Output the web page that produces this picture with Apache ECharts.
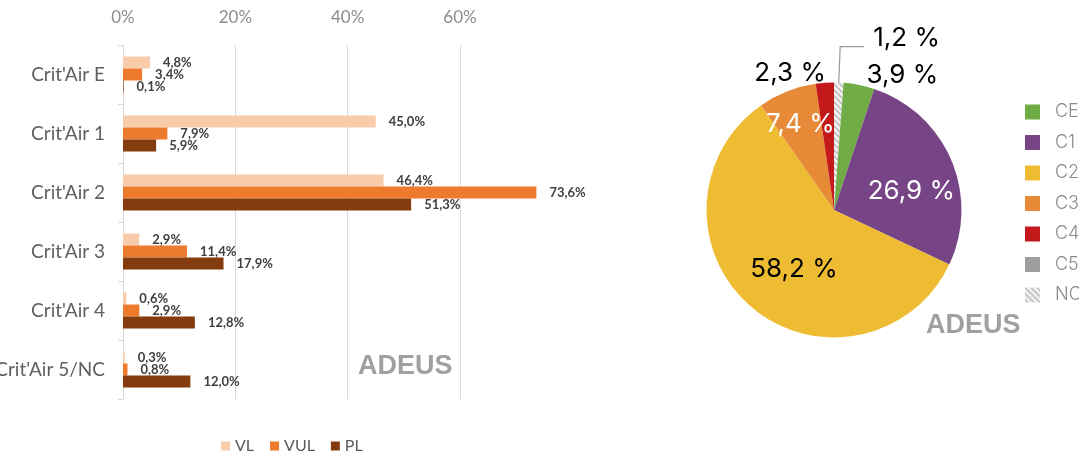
<!DOCTYPE html>
<html><head><meta charset="utf-8">
<script src="https://cdn.jsdelivr.net/npm/echarts@6/dist/echarts.min.js"></script>
<style>html,body{margin:0;padding:0;background:#fff}#c{width:1079px;height:455px}</style>
</head><body><div id="c"></div>
<script>
// ---- Bar chart data ----
const barCategories = ["Crit'Air E", "Crit'Air 1", "Crit'Air 2", "Crit'Air 3", "Crit'Air 4", "Crit'Air 5/NC"];
const seriesVL  = [4.8, 45.0, 46.4, 2.9, 0.6, 0.3];
const seriesVUL = [3.4, 7.9, 73.6, 11.4, 2.9, 0.8];
const seriesPL  = [0.1, 5.9, 51.3, 17.9, 12.8, 12.0];
const barSeriesNames = ['VL', 'VUL', 'PL'];
const xTicks = [0, 20, 40, 60];

// ---- Pie chart data (clockwise from top) ----
const pieNames  = ['NC', 'CE', 'C1', 'C2', 'C3', 'C4', 'C5'];
const pieValues = [1.2, 3.9, 26.9, 58.2, 7.4, 2.3, 0];
const pieLegendOrder = ['CE', 'C1', 'C2', 'C3', 'C4', 'C5', 'NC'];

// hatch pattern for NC
const pat = document.createElement('canvas');
pat.width = 6; pat.height = 6;
(function(){
  const g = pat.getContext('2d');
  g.fillStyle = '#f4f4f4'; g.fillRect(0,0,6,6);
  g.strokeStyle = '#bdbdbd'; g.lineWidth = 1.6;
  g.beginPath();
  g.moveTo(-1,-1); g.lineTo(7,7);
  g.moveTo(-4,2); g.lineTo(4,10);
  g.moveTo(2,-4); g.lineTo(10,4);
  g.stroke();
})();

const pieColors = {NC:{image: pat, repeat:'repeat'}, CE:'#6fac46', C1:'#774586', C2:'#edbc32', C3:'#e78a38', C4:'#c4191b', C5:'#9e9e9e'};
const pieLabelColor = {C1:'#ffffff', C3:'#ffffff'};
const pieInside = {C1:true, C2:true, C3:true};

const fmt = v => v.toFixed(1).replace('.', ',');

const chart = echarts.init(document.getElementById('c'));
const barColors = ['#f8cbab', '#ee7b2d', '#843c0e'];
const barData = [seriesVL, seriesVUL, seriesPL];

const pieData = pieNames.map((n, i) => {
  const d = {name: n, value: pieValues[i], itemStyle: {color: pieColors[n]}};
  if (pieValues[i] === 0) {
    d.label = {show: false}; d.labelLine = {show: false};
  } else if (pieInside[n]) {
    d.label = {position: 'inside', color: pieLabelColor[n] || '#000'};
    d.labelLine = {show: false};
  } else if (n === 'NC') {
    d.label = {position: 'outside', color: '#000'};
    d.labelLine = {show: true, length: 36, length2: 24, lineStyle: {color: '#9a9a9a', width: 1.2}};
  } else {
    d.label = {position: 'outside', color: '#000'};
    d.labelLine = {show: false, length: 12, length2: 4};
  }
  return d;
});

const labelShift = {C1: [16, 7], C2: [3, 8], C3: [-9, -24], NC: [4, -8], CE: [-4, 2], C4: [11, 2]};

chart.setOption({
  animation: false,
  textStyle: {fontFamily: 'Lato'},
  legend: [{
    data: barSeriesNames,
    left: 216, top: 433,
    itemWidth: 9, itemHeight: 9, itemGap: 16,
    icon: 'rect',
    textStyle: {color: '#595959', fontSize: 16, fontFamily: 'Lato'}
  }, {
    data: pieLegendOrder,
    orient: 'vertical',
    left: 1020, top: 98,
    itemWidth: 15, itemHeight: 15, itemGap: 12.5,
    icon: 'rect',
    textStyle: {color: '#8a8a8a', fontSize: 18, fontFamily: 'Inter', fontWeight: 300, padding: [0, 0, 0, 10]}
  }],
  grid: {left: 123, right: 619, top: 45, bottom: 56, outerBoundsMode: 'none', containLabel: false},
  xAxis: {
    type: 'value', position: 'top', min: xTicks[0], max: xTicks[xTicks.length - 1], interval: 20,
    axisLine: {show: false}, axisTick: {show: false},
    axisLabel: {formatter: '{value}%', color: '#8c8c8c', fontSize: 17, margin: 19, fontFamily: 'Lato'},
    splitLine: {lineStyle: {color: '#d9d9d9', width: 1}}
  },
  yAxis: {
    type: 'category', data: barCategories, inverse: true,
    axisLine: {lineStyle: {color: '#d9d9d9'}},
    axisTick: {show: true, length: 5, lineStyle: {color: '#d9d9d9'}},
    axisLabel: {color: '#5f5f5f', fontSize: 19, margin: 18, fontFamily: 'Lato'}
  },
  series: barSeriesNames.map((n, i) => ({
    type: 'bar', name: n, data: barData[i],
    barWidth: 12, barGap: '0%', clip: false,
    itemStyle: {color: barColors[i]},
    label: {show: true, position: 'right', distance: 13, formatter: p => fmt(p.value) + '%',
            fontSize: 13, fontWeight: 'bold', color: '#404040', fontFamily: 'Lato'}
  })).concat([{
    type: 'pie', name: 'pie', center: [834, 210], radius: [0, 127.5],
    startAngle: 90, clockwise: true, avoidLabelOverlap: false,
    legendHoverLink: false,
    label: {fontFamily: 'Inter', fontSize: 26, formatter: p => fmt(p.value) + ' %'},
    labelLayout: p => {
      const s = labelShift[pieNames[p.dataIndex]];
      return s ? {dx: s[0], dy: s[1]} : {};
    },
    data: pieData
  }]),
  graphic: [{
    type: 'text', left: 358, top: 353,
    style: {text: 'ADEUS', font: 'bold 27px "Liberation Sans"', fill: '#a0a0a0'}
  }, {
    type: 'text', left: 926, top: 312,
    style: {text: 'ADEUS', font: 'bold 27px "Liberation Sans"', fill: '#a0a0a0'}
  }]
});
</script></body></html>
